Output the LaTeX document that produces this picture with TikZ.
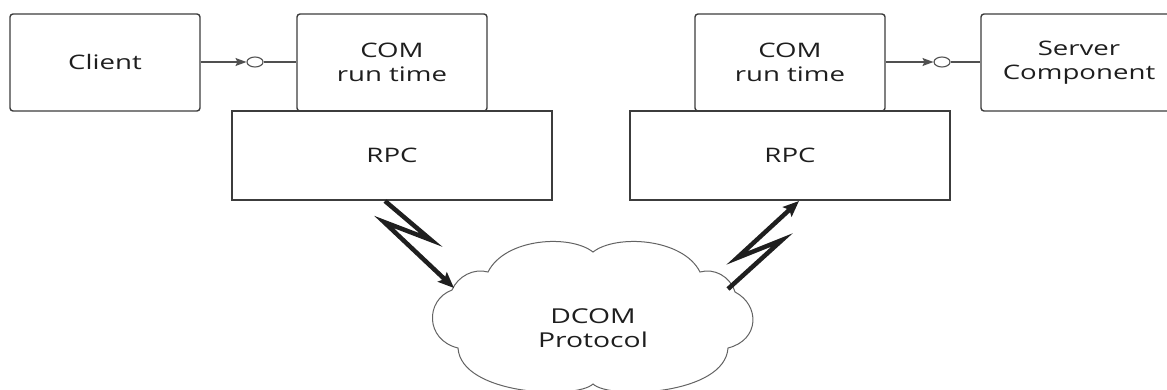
\documentclass[tikz,border=0pt]{standalone}
\usepackage{fontspec}
\setmainfont{Open Sans}
\newfontfamily\labelfont[FakeStretch=1.38]{Open Sans}
\usetikzlibrary{arrows.meta,shapes.geometric}

\definecolor{edgegray}{HTML}{3C3C3C}
\definecolor{linegray}{HTML}{505050}
\definecolor{textgray}{HTML}{1E1E1E}

\tikzset{
  txt/.style={font=\labelfont\fontsize{20}{24}\selectfont, text=textgray, align=center},
  softbox/.style={txt, draw=edgegray, line width=1.4pt, rounded corners=3pt,
                  minimum height=97pt, inner sep=0pt},
  rpcbox/.style={txt, draw=edgegray, line width=1.4pt, fill=white,
                 minimum width=320pt, minimum height=89pt, inner sep=0pt},
  lollipop/.style={ellipse, draw=linegray, line width=1.1pt, fill=white,
                   minimum width=16pt, minimum height=10pt, inner sep=0pt},
  iface/.style={draw=linegray, line width=1.1pt},
  bolt/.style={draw=black!88, line width=4.5pt, line join=miter, miter limit=20,
               -{Stealth[length=16pt,width=13pt,inset=3pt]}},
  cloudline/.style={draw=edgegray!80, line width=1pt, fill=white}
}

\begin{document}
\begin{tikzpicture}[x=1pt,y=-1pt]
  \useasboundingbox (0,0) rectangle (1167,390);

  % client side
  \node[softbox, minimum width=190pt] (client) at (105,62.5) {Client};
  \node[softbox, minimum width=190pt] (comA) at (392,62.5) {COM\\run time};
  \node[rpcbox] (rpcA) at (392,155.5) {RPC};
  \node[lollipop] (ifA) at (255,62) {};
  \draw[iface, -{Stealth[length=11pt,width=8pt,inset=2pt]}] (client.east |- ifA) -- (ifA.west);
  \draw[iface] (ifA.east) -- (comA.west |- ifA);

  % server side
  \node[softbox, minimum width=190pt] (comB) at (790,62.5) {COM\\run time};
  \node[rpcbox] (rpcB) at (790,155.5) {RPC};
  \node[softbox, minimum width=196pt] (server) at (1079,62.5) {Server\\Component};
  \node[lollipop] (ifB) at (942,62) {};
  \draw[iface, -{Stealth[length=11pt,width=8pt,inset=2pt]}] (comB.east |- ifB) -- (ifB.west);
  \draw[iface] (ifB.east) -- (server.west |- ifB);

  % the DCOM cloud
  \path[cloudline]
    (452,290) .. controls (458,276) and (474,268) .. (488,272)
              .. controls (505,238) and (570,234) .. (593,252)
              .. controls (616,234) and (683,238) .. (700,272)
              .. controls (714,268) and (730,276) .. (735,292)
              .. controls (760,305) and (760,340) .. (728,348)
              .. controls (725,395) and (610,400) .. (593,384)
              .. controls (576,400) and (461,395) .. (458,348)
              .. controls (425,340) and (425,300) .. (452,290) -- cycle;
  \node[txt, font=\labelfont\fontsize{20.5}{23.5}\selectfont] (dcom) at (593,328) {DCOM\\Protocol};

  % lightning links between RPC and the network
  \coordinate (boltAstart) at (385,201);
  \coordinate (boltAkink1) at (431,240);
  \coordinate (boltAkink2) at (384,222);
  \coordinate (boltAend)   at (454,288);
  \draw[bolt] (boltAstart) -- (boltAkink1) -- (boltAkink2) -- (boltAend);

  \coordinate (boltBstart) at (728,289);
  \coordinate (boltBkink1) at (782,240);
  \coordinate (boltBkink2) at (737,258);
  \coordinate (boltBend)   at (799,201);
  \draw[bolt] (boltBstart) -- (boltBkink1) -- (boltBkink2) -- (boltBend);
\end{tikzpicture}
\end{document}
